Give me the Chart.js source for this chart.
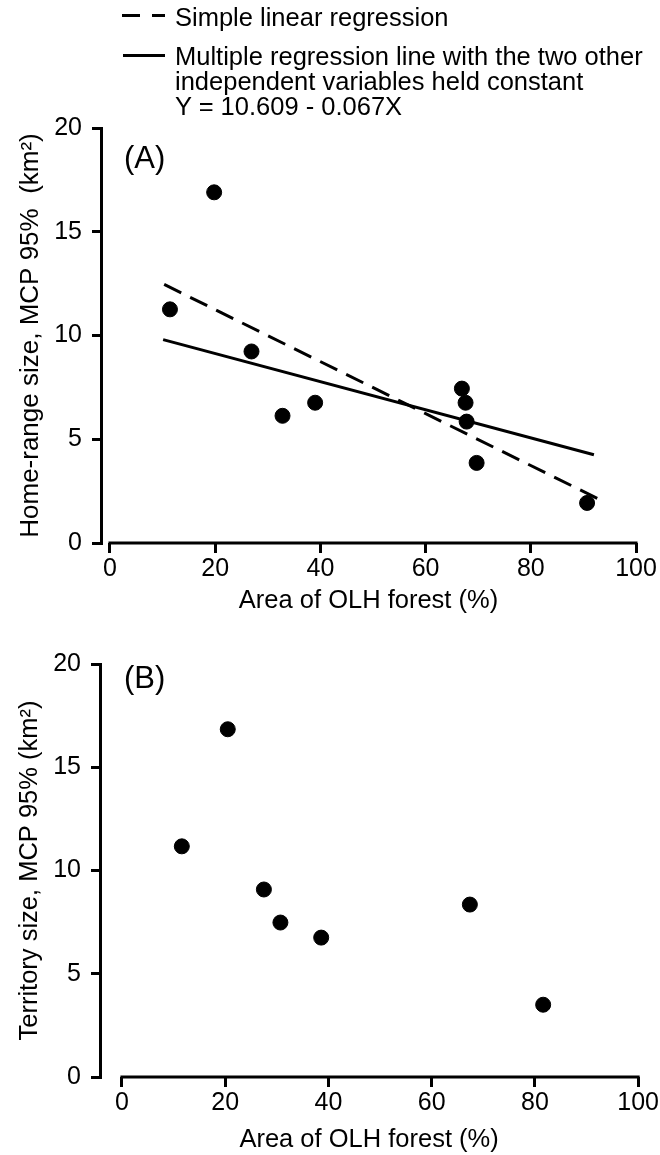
<!DOCTYPE html>
<html>
<head>
<meta charset="utf-8">
<script src="https://cdn.jsdelivr.net/npm/chart.js@4.4.1/dist/chart.umd.min.js"></script>
<style>
  body { margin:0; background:#fff; font-family:"Liberation Sans", Arial, sans-serif; color:#000; }
  #wrap { position:relative; width:660px; height:1155px; }
  canvas { position:absolute; left:0; }
  .leg { position:absolute; left:175px; font-size:25.5px; white-space:nowrap; }
  .swatch { position:absolute; height:3px; background:#000; }
  .panel { position:absolute; left:124px; font-size:31px; line-height:32px; }
</style>
</head>
<body>
<div id="wrap">
  <canvas id="chartA" width="660" height="630" style="top:0"></canvas>
  <canvas id="chartB" width="660" height="525" style="top:630px"></canvas>

  <div class="swatch" style="left:122px;top:14px;width:18px"></div>
  <div class="swatch" style="left:152px;top:14px;width:13px"></div>
  <div class="leg" style="top:4px;line-height:26px">Simple linear regression</div>
  <div class="swatch" style="left:123px;top:54px;width:42px"></div>
  <div class="leg" style="top:44px;line-height:25px">Multiple regression line with the two other<br>independent variables held constant<br>Y = 10.609 - 0.067X</div>

  <div class="panel" style="top:142px">(A)</div>
  <div class="panel" style="top:662px">(B)</div>
</div>
<script>
// panel A: home-range size vs OLH forest
const aForest = [11.4, 19.8, 26.9, 32.8, 39.0, 66.9, 67.6, 67.8, 69.7, 90.7];
const aHomeRange = [11.26, 16.9, 9.23, 6.13, 6.76, 7.44, 6.76, 5.85, 3.86, 1.93];

// regression lines (end points)
const simpleX = [10.3, 92.8];
const simpleY = [12.46, 2.13];
const multiX = [10.1, 92.0];
const multiY = [9.8, 4.25];

// panel B: territory size vs OLH forest
const bForest = [11.6, 20.5, 27.5, 30.7, 38.6, 67.4, 81.6];
const bTerritory = [11.17, 16.84, 9.08, 7.48, 6.75, 8.35, 3.5];

const xTicks = [0, 20, 40, 60, 80, 100];
const yTicks = [0, 5, 10, 15, 20];

const FONT = '"Liberation Sans", Arial, sans-serif';

function pts(xs, ys){
  return xs.map((x,i)=>({x, y: ys[i]}));
}

// x axis line only spans 0..100, detached from the y axis
const xAxisLine = {
  id: 'xAxisLine',
  afterDraw(chart){
    const {ctx, chartArea, scales} = chart;
    const x0 = scales.x.getPixelForValue(xTicks[0]);
    const x1 = scales.x.getPixelForValue(xTicks[xTicks.length-1]);
    ctx.save();
    ctx.strokeStyle = '#000';
    ctx.lineWidth = 3;
    ctx.beginPath();
    ctx.moveTo(x0 - 1.5, chartArea.bottom);
    ctx.lineTo(x1 + 1.5, chartArea.bottom);
    ctx.stroke();
    ctx.restore();
  }
};

function makeOptions(cfg){
  return {
    responsive:false,
    animation:false,
    layout:{padding:{top:cfg.padTop, right:cfg.padRight, bottom:0, left:0}},
    plugins:{legend:{display:false}, tooltip:{enabled:false}},
    scales:{
      x:{
        type:'linear', min:cfg.xMin, max:100,
        afterBuildTicks: s => { s.ticks = xTicks.map(v=>({value:v})); },
        afterFit: s => { s.height = cfg.xHeight; },
        border:{display:false},
        grid:{drawOnChartArea:false, drawTicks:true, tickLength:10, lineWidth:3, color:'#000'},
        ticks:{color:'#000', padding:1, maxRotation:0, font:{family:FONT, size:25}},
        title:{display:true, text:'Area of OLH forest (%)', color:'#000',
               font:{family:FONT, size:25.5}, padding:{top:0, bottom:cfg.xTitlePad}}
      },
      y:{
        type:'linear', min:0, max:20,
        afterBuildTicks: s => { s.ticks = yTicks.map(v=>({value:v})); },
        afterFit: s => { s.width = cfg.yWidth; },
        border:{display:true, color:'#000', width:3},
        grid:{drawOnChartArea:false, drawTicks:true, tickLength:9, lineWidth:3, color:'#000'},
        ticks:{color:'#000', padding:10, font:{family:FONT, size:25}},
        title:{display:true, text:cfg.yTitle, color:'#000',
               font:{family:FONT, size:cfg.yTitleSize}, padding:{top:15, bottom:0}}
      }
    }
  };
}

new Chart(document.getElementById('chartA'), {
  type:'scatter',
  data:{datasets:[
    {data:pts(aForest, aHomeRange), backgroundColor:'#000', borderColor:'#000', pointRadius:7.5},
    {type:'line', data:pts(simpleX, simpleY), borderColor:'#000', borderWidth:3, borderDash:[19,10], pointRadius:0, fill:false},
    {type:'line', data:pts(multiX, multiY), borderColor:'#000', borderWidth:3, pointRadius:0, fill:false}
  ]},
  options: makeOptions({padTop:128, padRight:24, xMin:-1.71, xHeight:87, xTitlePad:14, yWidth:101,
                        yTitleSize:26, yTitle:'Home-range size, MCP 95%  (km\u00B2)'}),
  plugins:[xAxisLine]
});

new Chart(document.getElementById('chartB'), {
  type:'scatter',
  data:{datasets:[
    {data:pts(bForest, bTerritory), backgroundColor:'#000', borderColor:'#000', pointRadius:7.5}
  ]},
  options: makeOptions({padTop:34, padRight:21, xMin:-4.25, xHeight:78, xTitlePad:0, yWidth:100,
                        yTitleSize:25.5, yTitle:'Territory size, MCP 95% (km\u00B2)'}),
  plugins:[xAxisLine]
});
</script>
</body>
</html>
